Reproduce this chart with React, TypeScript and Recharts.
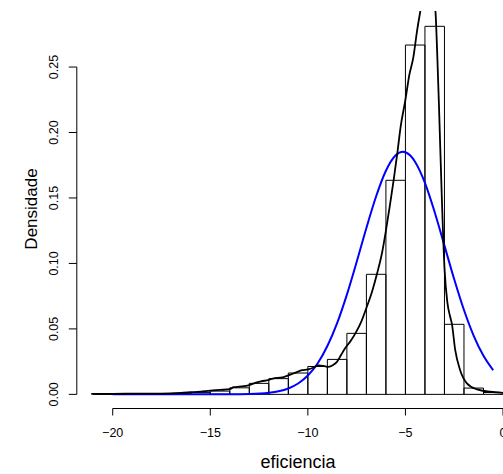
import { ComposedChart, Line, XAxis, YAxis, ReferenceArea, ReferenceLine } from "recharts";

// histogram bins (left edge, width 1) and densities
const binStart = [-21, -20, -19, -18, -17, -16, -15, -14, -13, -12, -11, -10, -9, -8, -7, -6, -5, -4, -3, -2, -1];
const binDensity = [0.0004, 0.0003, 0.0003, 0.0005, 0.0008, 0.0015, 0.0025, 0.005, 0.0084, 0.012, 0.0163, 0.0213, 0.0267, 0.0466, 0.0917, 0.1635, 0.2668, 0.2811, 0.0535, 0.0048, 0.0014];

// kernel density (black)
const kdeX = [-21.1, -20.5, -20, -19, -18, -17, -16.5, -16, -15.5, -15, -14.5, -14, -13.8, -13.5, -13, -12.7, -12.4, -12, -11.8, -11.3, -11, -10.6, -10.3, -10, -9.7, -9.45, -9.2, -8.95, -8.7, -8.5, -8.3, -8.1, -7.8, -7.55, -7.25, -7, -6.7, -6.45, -6.2, -6, -5.8, -5.6, -5.4, -5.25, -5, -4.8, -4.6, -4.4, -4.2, -4, -3.85, -3.7, -3.55, -3.45, -3.36, -3.28, -3.13, -3, -2.85, -2.72, -2.62, -2.45, -2.2, -1.85, -1.33, -0.65, 0];
const kdeY = [0.0003, 0.0004, 0.0004, 0.0005, 0.0006, 0.0008, 0.0011, 0.0016, 0.0021, 0.0029, 0.0034, 0.004, 0.0055, 0.0059, 0.007, 0.0088, 0.01, 0.011, 0.0121, 0.013, 0.0145, 0.0168, 0.0185, 0.019, 0.0205, 0.0222, 0.0218, 0.021, 0.0225, 0.025, 0.03, 0.035, 0.041, 0.047, 0.056, 0.066, 0.079, 0.0925, 0.108, 0.125, 0.144, 0.164, 0.186, 0.204, 0.225, 0.244, 0.257, 0.278, 0.296, 0.315, 0.323, 0.32, 0.305, 0.29, 0.2554, 0.22, 0.148, 0.097, 0.07, 0.06, 0.054, 0.034, 0.0186, 0.0084, 0.0038, 0.002, 0.0012];

// fitted normal (blue)
const normX = [-20, -18, -16, -14, -13, -12, -11.5, -11, -10.5, -10, -9.5, -9, -8.5, -8, -7.5, -7, -6.5, -6, -5.5, -5.13, -4.75, -4.5, -4, -3.5, -3, -2.5, -2, -1.5, -1, -0.5];
const normY = [0, 0, 0, 0.00004, 0.00023, 0.00114, 0.0023, 0.0045, 0.0083, 0.0144, 0.0236, 0.0369, 0.0544, 0.0762, 0.1011, 0.1271, 0.1513, 0.1708, 0.1826, 0.1853, 0.1824, 0.1775, 0.1615, 0.1391, 0.1136, 0.0879, 0.0644, 0.0447, 0.0294, 0.0184];

const xTicks = [-20, -15, -10, -5, 0];
const yTicks = [0, 0.05, 0.1, 0.15, 0.2, 0.25];

const kde = kdeX.map((x, i) => ({ x, y: kdeY[i] }));
const norm = normX.map((x, i) => ({ x, y: normY[i] }));

const font = "'Liberation Sans', Arial, Helvetica, sans-serif";
const X_MIN = -21.84;
const Y_MIN = -0.0108;

const XTick = (props: any) => {
  const { x, payload } = props;
  return (
    <text x={x} y={436.5} textAnchor="middle" fontSize={12.5} fontFamily={font} fill="#000">
      {payload.value < 0 ? "\u2212" + Math.abs(payload.value) : String(payload.value)}
    </text>
  );
};

const YTick = (props: any) => {
  const { y, payload } = props;
  return (
    <text x={58} y={y} textAnchor="middle" fontSize={12.5} fontFamily={font} fill="#000" transform={`rotate(-90, 58, ${y})`}>
      {Number(payload.value).toFixed(2)}
    </text>
  );
};

export default function App() {
  return (
    <div style={{ position: "absolute", left: 0, top: 0, width: 503, height: 474, background: "#fff" }}>
      <ComposedChart width={503} height={474} margin={{ top: 11, right: 0, bottom: 35.5, left: 46.8 }}>
        <XAxis
          type="number"
          dataKey="x"
          domain={[X_MIN, 0]}
          allowDataOverflow={true}
          ticks={xTicks}
          height={30}
          axisLine={false}
          tickSize={7}
          tickLine={{ stroke: "#000" }}
          tick={XTick}
          interval={0}
        />
        <YAxis
          type="number"
          domain={[Y_MIN, 0.2928]}
          allowDataOverflow={true}
          ticks={yTicks}
          width={30}
          axisLine={false}
          tickSize={8}
          tickLine={{ stroke: "#000" }}
          tick={YTick}
          interval={0}
        />
        <ReferenceLine segment={[{ x: X_MIN, y: 0 }, { x: X_MIN, y: 0.25 }]} stroke="#000" ifOverflow="visible" />
        <ReferenceLine segment={[{ x: -20, y: Y_MIN }, { x: 0, y: Y_MIN }]} stroke="#000" ifOverflow="visible" />
        {binStart.map((b, i) => (
          <ReferenceArea
            key={b}
            x1={b}
            x2={b + 1}
            y1={0}
            y2={binDensity[i]}
            fill="none"
            fillOpacity={0}
            stroke="#000"
            strokeWidth={1}
            ifOverflow="visible"
          />
        ))}
        <Line data={norm} dataKey="y" type="monotone" stroke="#0000ff" strokeWidth={2} dot={false} isAnimationActive={false} />
        <Line data={kde} dataKey="y" type="monotone" stroke="#000" strokeWidth={1.8} dot={false} isAnimationActive={false} />
      </ComposedChart>
      <svg width={503} height={474} style={{ position: "absolute", left: 0, top: 0, pointerEvents: "none" }}>
        <text x={298} y={468} textAnchor="middle" fontSize={18} fontFamily={font} fill="#000">
          eficiencia
        </text>
        <text x={37} y={209} textAnchor="middle" fontSize={17} fontFamily={font} fill="#000" transform="rotate(-90, 37, 209)">
          Densidade
        </text>
      </svg>
    </div>
  );
}
